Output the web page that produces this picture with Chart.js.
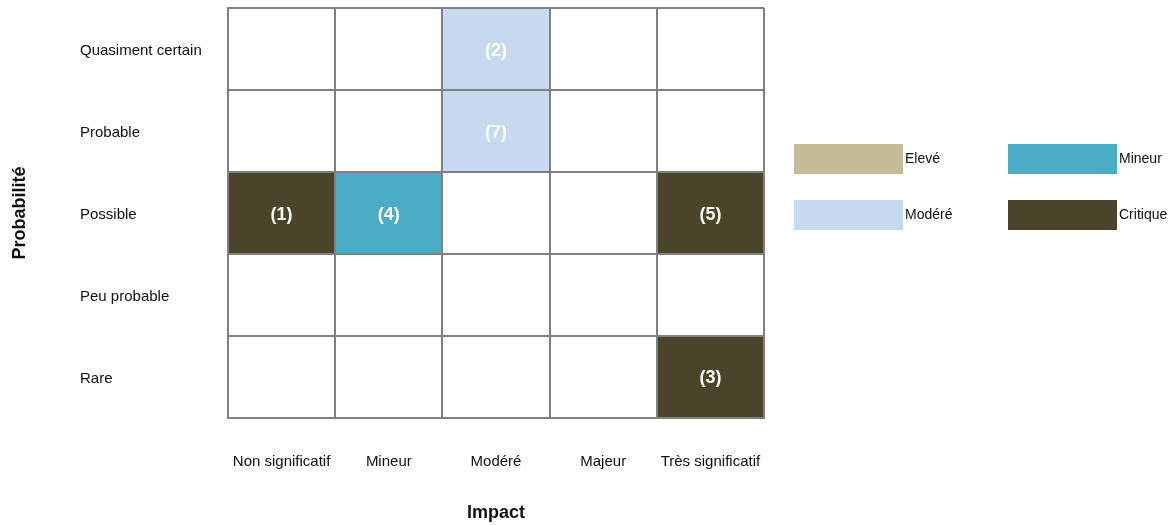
<!DOCTYPE html>
<html>
<head>
<meta charset="utf-8">
<script src="https://cdn.jsdelivr.net/npm/chart.js@4/dist/chart.umd.min.js"></script>
<style>
  html, body { margin: 0; padding: 0; background: #fff; }
  canvas { display: block; }
</style>
</head>
<body>
<canvas id="myChart" width="1173" height="525"></canvas>
<script>
// axes
const impacts = ['Non significatif', 'Mineur', 'Modéré', 'Majeur', 'Très significatif'];
const probabilities = ['Rare', 'Peu probable', 'Possible', 'Probable', 'Quasiment certain']; // bottom -> top
const levels = ['Elevé', 'Modéré', 'Mineur', 'Critique'];

// risks placed in the matrix
const riskIds = [1, 2, 3, 4, 5, 7];
const riskImpact = ['Non significatif', 'Modéré', 'Très significatif', 'Mineur', 'Très significatif', 'Modéré'];
const riskProbability = ['Possible', 'Quasiment certain', 'Rare', 'Possible', 'Possible', 'Probable'];
const riskLevel = ['Critique', 'Modéré', 'Critique', 'Mineur', 'Critique', 'Modéré'];

const levelColors = {
    'Elevé': '#C4BC96',
    'Modéré': '#C6D9F1',
    'Mineur': '#4BACC6',
    'Critique': '#4A452A'
};
const gridColor = '#808080';

Chart.defaults.font.family = "'Liberation Sans', Arial, sans-serif";
Chart.defaults.color = '#111';

const datasets = levels.map(level => {
    const data = [];
    riskIds.forEach((id, i) => {
        if (riskLevel[i] !== level) return;
        const p = probabilities.indexOf(riskProbability[i]);
        data.push({ x: riskImpact[i], y: [p, p + 1], id: id });
    });
    return {
        label: level,
        data: data,
        backgroundColor: levelColors[level],
        borderWidth: 0,
        grouped: false,
        barPercentage: 1,
        categoryPercentage: 1
    };
});

// "(n)" in the middle of each coloured cell
const cellLabels = {
    id: 'cellLabels',
    afterDatasetsDraw(chart) {
        const ctx = chart.ctx;
        ctx.save();
        ctx.font = "bold 18px 'Liberation Sans', Arial, sans-serif";
        ctx.fillStyle = '#fff';
        ctx.textAlign = 'center';
        ctx.textBaseline = 'middle';
        chart.data.datasets.forEach((ds, di) => {
            chart.getDatasetMeta(di).data.forEach((bar, i) => {
                const c = bar.getCenterPoint();
                ctx.fillText('(' + ds.data[i].id + ')', c.x, c.y + 2);
            });
        });
        ctx.restore();
    }
};

// 2x2 legend at the right
const gridLegend = {
    id: 'gridLegend',
    afterDraw(chart) {
        const ctx = chart.ctx;
        const left = chart.chartArea.right + 30;
        const top = 144;
        ctx.save();
        ctx.font = "14px 'Liberation Sans', Arial, sans-serif";
        ctx.textBaseline = 'middle';
        ctx.textAlign = 'left';
        chart.data.datasets.forEach((ds, i) => {
            const x = left + Math.floor(i / 2) * 214;
            const y = top + (i % 2) * 56;
            ctx.fillStyle = ds.backgroundColor;
            ctx.fillRect(x, y, 109, 30);
            ctx.fillStyle = '#111';
            ctx.fillText(ds.label, x + 111, y + 15);
        });
        ctx.restore();
    }
};

const conf = {
    type: 'bar',
    data: { labels: impacts, datasets: datasets },
    options: {
        responsive: false,
        animation: false,
        layout: { padding: { top: 8, right: 409, bottom: 0, left: 0 } },
        plugins: {
            legend: { display: false },
            tooltip: { enabled: false }
        },
        scales: {
            x: {
                type: 'category',
                offset: true,
                grid: { offset: true, color: gridColor, lineWidth: 2, drawTicks: false, z: 1 },
                border: { color: gridColor, width: 2, z: 1 },
                ticks: { padding: 35, font: { size: 15 } },
                title: {
                    display: true,
                    text: 'Impact',
                    font: { size: 18, weight: 'bold' },
                    padding: { top: 0, bottom: 1 }
                },
                afterFit(scale) {
                    scale.height = 107;
                    scale.paddingLeft = 0;
                    scale.paddingRight = 0;
                }
            },
            y: {
                type: 'linear',
                position: 'left',
                weight: 0,
                min: 0,
                max: 5,
                grid: { color: gridColor, lineWidth: 2, drawTicks: false, z: 1 },
                border: { color: gridColor, width: 2, z: 1 },
                ticks: {
                    stepSize: 1,
                    crossAlign: 'far',
                    labelOffset: -39,
                    font: { size: 15 },
                    callback: v => probabilities[v] || ''
                },
                afterFit(scale) {
                    scale.width = 148;
                    scale.paddingTop = 0;
                    scale.paddingBottom = 0;
                }
            },
            yTitle: {
                type: 'linear',
                position: 'left',
                weight: 1,
                grid: { display: false },
                border: { display: false },
                ticks: { display: false },
                title: {
                    display: true,
                    text: 'Probabilité',
                    font: { size: 18, weight: 'bold' },
                    padding: { top: 9, bottom: 0 }
                },
                afterFit(scale) {
                    scale.width = 80;
                    scale.paddingTop = 0;
                    scale.paddingBottom = 0;
                }
            }
        }
    },
    plugins: [cellLabels, gridLegend]
};

const ctx = document.getElementById('myChart').getContext('2d');
const myChart = new Chart(ctx, conf);
</script>
</body>
</html>
